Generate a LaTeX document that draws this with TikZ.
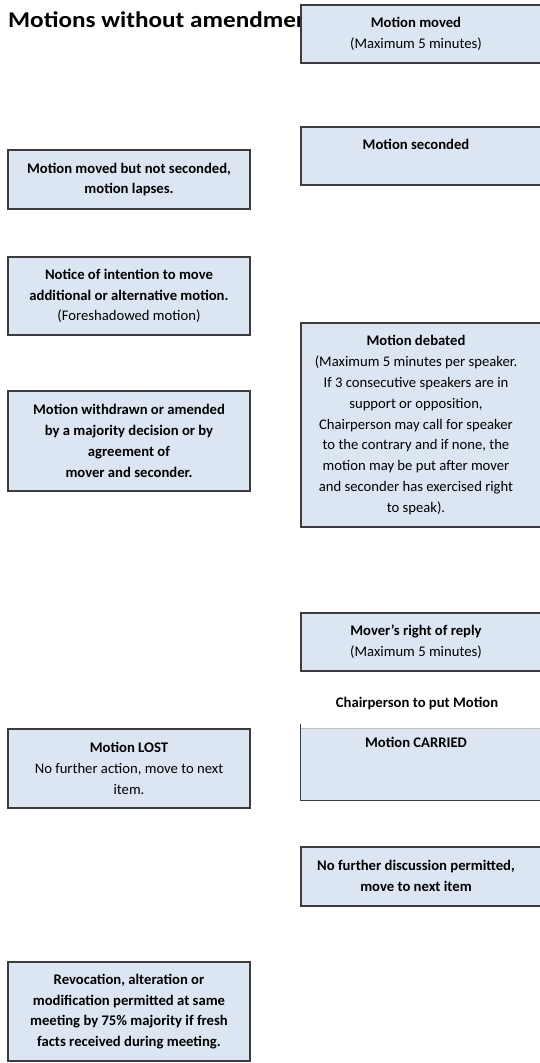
\documentclass[tikz,border=0pt]{standalone}
\usepackage{fontspec}
\setmainfont{Carlito}
\usetikzlibrary{positioning, shadows}
\definecolor{boxfill}{HTML}{DCE6F2}
\definecolor{boxline}{HTML}{3C3C3C}
\definecolor{topline}{HTML}{BDBDBD}
% right-hand boxes: text sits a little left of the box centre
\newcommand{\rlines}[1]{\begin{tabular}{@{}c@{}}#1\end{tabular}\hspace*{10pt}}

\begin{document}
\begin{tikzpicture}[
    x=1pt, y=1pt,
    every node/.style={font=\fontsize{14.67}{20.8}\selectfont},
    panel/.style={draw=boxline, line width=1.3pt, fill=boxfill,
                  inner sep=0pt, minimum width=#1,
                  drop shadow={shadow xshift=1.2pt, shadow yshift=-1.2pt, fill=black!18}},
    lpanel/.style={panel=242pt, align=center},
    rpanel/.style={panel=240pt},
    openpanel/.style={fill=boxfill, inner sep=0pt, minimum width=240pt},
    bold/.style={font=\fontsize{14.67}{20.8}\selectfont\bfseries},
  ]
  \useasboundingbox (0,0) rectangle (540,-1063);

  % title (partly hidden behind the first box)
  \node[anchor=base west, inner sep=0pt, font=\fontsize{22.5}{26}\selectfont\bfseries]
    (title) at (8,-27) {\scalebox{1.12}[1]{Motions without amendments}};

  % right column
  \node[rpanel, minimum height=58pt] (moved) at (421,-34)
    {\rlines{\textbf{Motion moved}\\(Maximum 5 minutes)}};
  \node[rpanel, minimum height=58pt] (seconded) at (421,-156)
    {\rlines{\textbf{Motion seconded}\\\strut}};
  \node[rpanel, minimum height=204pt] (debated) at (421,-425)
    {\rlines{\textbf{Motion debated}\\(Maximum 5 minutes per speaker.\\If 3 consecutive speakers are in\\
     support or opposition,\\Chairperson may call for speaker\\to the contrary and if none, the\\
     motion may be put after mover\\and seconder has exercised right\\to speak).}};
  \node[rpanel, minimum height=58pt] (reply) at (421,-642)
    {\rlines{\textbf{Mover’s right of reply}\\(Maximum 5 minutes)}};
  \node[bold] (chair) at (417,-703) {Chairperson to put Motion};
  \node[openpanel, minimum height=71pt] (carried) at (421,-764.5)
    {\rlines{\textbf{Motion CARRIED}\\\strut\\\strut}};
  \draw[boxline, line width=1.3pt] ([yshift=5pt]carried.north west) -- (carried.south west)
    -- (carried.south east) -- (carried.north east);
  \draw[topline, line width=1.3pt] (carried.north west) -- (carried.north east);
  \node[rpanel, bold, minimum height=59pt] (nofurther) at (421,-876.5)
    {\rlines{No further discussion permitted,\\move to next item}};

  % left column
  \node[lpanel, bold, minimum height=59pt] (lapse) at (129,-179.5)
    {Motion moved but not seconded,\\motion lapses.};
  \node[lpanel, minimum height=78pt] (notice) at (129,-296)
    {\textbf{Notice of intention to move}\\\textbf{additional or alternative motion.}\\
     (Foreshadowed motion)};
  \node[lpanel, bold, minimum height=100pt] (withdrawn) at (129,-441)
    {Motion withdrawn or amended\\by a majority decision or by\\agreement of\\mover and seconder.};
  \node[lpanel, minimum height=79pt] (lost) at (129,-768.5)
    {\textbf{Motion LOST}\\No further action, move to next\\item.};
  \node[lpanel, bold, minimum height=99pt] (revoke) at (129,-1011.5)
    {Revocation, alteration or\\modification permitted at same\\meeting by 75\% majority if fresh\\
     facts received during meeting.};
\end{tikzpicture}
\end{document}
